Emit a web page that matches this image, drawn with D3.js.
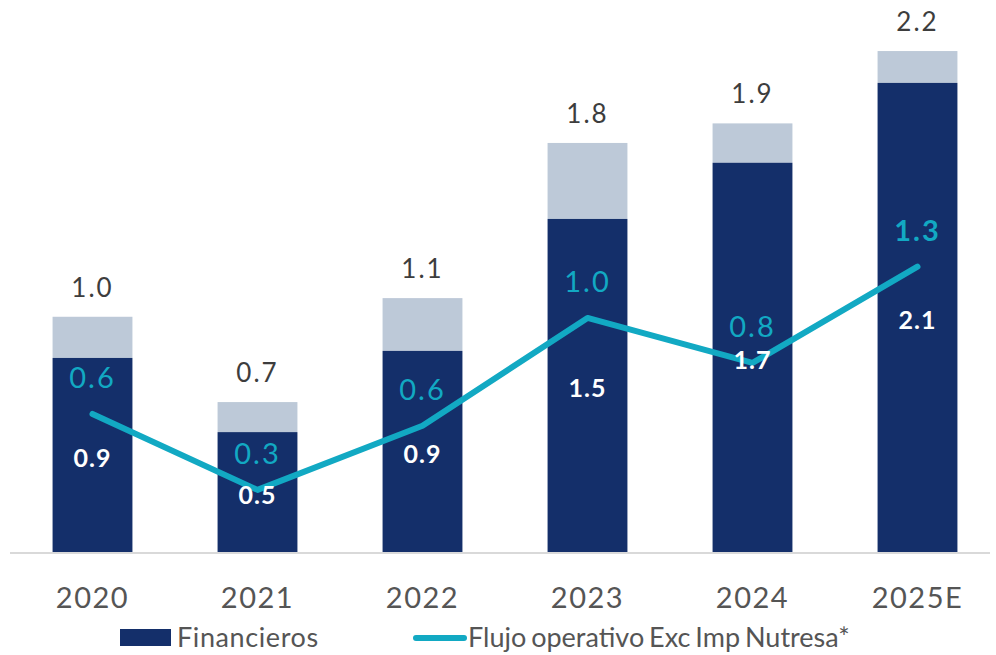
<!DOCTYPE html>
<html>
<head>
<meta charset="utf-8">
<script src="https://cdn.jsdelivr.net/npm/d3@7"></script>
<style>
  html, body { margin: 0; padding: 0; background: #ffffff; }
  svg { display: block; font-family: Lato, "Noto Sans", sans-serif; }
</style>
</head>
<body>
<svg id="chart" width="996" height="655"></svg>
<script>
// Years on the x axis
const categories = ["2020", "2021", "2022", "2023", "2024", "2025E"];
// Financieros (dark segment), in the same units as the totals
const financieros = [0.853, 0.527, 0.884, 1.464, 1.711, 2.062];
// Stacked bar totals (value shown above each bar)
const totals = [1.034, 0.659, 1.116, 1.798, 1.884, 2.202];
// Flujo operativo Exc Imp Nutresa*
const flujo = [0.607, 0.273, 0.555, 1.029, 0.831, 1.254];

const legendLabels = ["Financieros", "Flujo operativo Exc Imp Nutresa*"];

const colors = {
  navy: "#142f6a",
  light: "#bdc9d8",
  teal: "#12a9c3",
  total: "#3d3d3d",
  axis: "#555555",
  baseline: "#d9d9d9"
};

const fmt = d3.format(".1f");
const isEstimate = c => c.endsWith("E");
const svg = d3.select("#chart");

const x = d3.scaleBand()
  .domain(categories)
  .range([10, 1000])
  .paddingInner(0.516)
  .paddingOuter(0.258);

const baseY = 552;
const y = d3.scaleLinear().domain([0, 1]).range([baseY, baseY - 227.5]);

const rows = categories.map((c, i) => ({
  cat: c, fin: financieros[i], total: totals[i], flujo: flujo[i]
}));

const cx = d => x(d.cat) + x.bandwidth() / 2;

// upper (light) segment: from financieros to the total
svg.append("g").selectAll("rect")
  .data(rows).join("rect")
  .attr("x", d => x(d.cat))
  .attr("width", x.bandwidth())
  .attr("y", d => y(d.total))
  .attr("height", d => y(d.fin) - y(d.total))
  .attr("fill", colors.light);

// Financieros segment
svg.append("g").selectAll("rect")
  .data(rows).join("rect")
  .attr("x", d => x(d.cat))
  .attr("width", x.bandwidth())
  .attr("y", d => y(d.fin))
  .attr("height", d => y(0) - y(d.fin))
  .attr("fill", colors.navy);

// baseline
svg.append("line")
  .attr("x1", 10).attr("x2", 990)
  .attr("y1", baseY + 1).attr("y2", baseY + 1)
  .attr("stroke", colors.baseline)
  .attr("stroke-width", 2);

// x axis labels
const xAxis = d3.axisBottom(x).tickSize(0).tickPadding(0);
const gx = svg.append("g")
  .attr("transform", `translate(0, ${baseY})`)
  .call(xAxis);
gx.select(".domain").remove();
gx.selectAll("text")
  .attr("y", 56)
  .attr("dy", 0)
  .attr("fill", colors.axis)
  .style("font-family", "Lato, sans-serif")
  .style("font-size", "29px")
  .style("letter-spacing", "1.5px");

// total labels
svg.append("g").selectAll("text")
  .data(rows).join("text")
  .attr("x", cx)
  .attr("y", d => y(d.total) - 20)
  .attr("text-anchor", "middle")
  .attr("fill", colors.total)
  .style("font-size", "26px")
  .style("letter-spacing", "2px")
  .text(d => fmt(d.total));

// line
const line = d3.line().x(cx).y(d => y(d.flujo));
svg.append("path")
  .datum(rows)
  .attr("d", line)
  .attr("fill", "none")
  .attr("stroke", colors.teal)
  .attr("stroke-width", 6)
  .attr("stroke-linecap", "round")
  .attr("stroke-linejoin", "round");

// Financieros labels, centred in the dark segment
svg.append("g").selectAll("text")
  .data(rows).join("text")
  .attr("x", cx)
  .attr("y", d => (y(d.fin) + y(0)) / 2 + 12)
  .attr("text-anchor", "middle")
  .attr("fill", "#ffffff")
  .style("font-size", "25px")
  .style("font-weight", "700")
  .style("letter-spacing", "1px")
  .text(d => fmt(d.fin));

// line labels
svg.append("g").selectAll("text")
  .data(rows).join("text")
  .attr("x", cx)
  .attr("y", d => y(d.flujo) - 26)
  .attr("text-anchor", "middle")
  .attr("fill", colors.teal)
  .style("font-size", "29px")
  .style("font-weight", d => isEstimate(d.cat) ? "700" : "400")
  .style("letter-spacing", "2px")
  .text(d => fmt(d.flujo));

// legend
const lg = svg.append("g")
  .style("font-size", "27px")
  .style("word-spacing", "-2px");
lg.append("rect")
  .attr("x", 120).attr("y", 629)
  .attr("width", 51).attr("height", 17)
  .attr("fill", colors.navy);
lg.append("text")
  .attr("x", 177).attr("y", 647)
  .attr("fill", colors.axis)
  .style("letter-spacing", "0.6px")
  .text(legendLabels[0]);
lg.append("line")
  .attr("x1", 416).attr("x2", 464)
  .attr("y1", 638).attr("y2", 638)
  .attr("stroke", colors.teal)
  .attr("stroke-width", 6)
  .attr("stroke-linecap", "round");
lg.append("text")
  .attr("x", 468).attr("y", 647)
  .attr("fill", colors.axis)
  .text(legendLabels[1]);
</script>
</body>
</html>
